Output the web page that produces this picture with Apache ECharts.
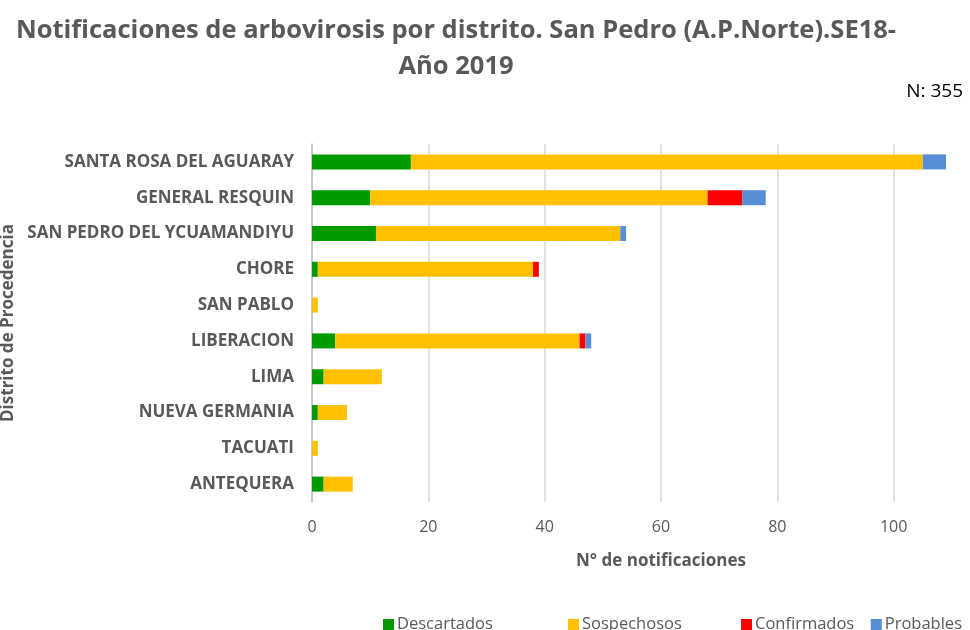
<!DOCTYPE html>
<html>
<head>
<meta charset="utf-8">
<script src="https://cdn.jsdelivr.net/npm/echarts@6/dist/echarts.min.js"></script>
<style>
  html, body { margin: 0; padding: 0; background: #fff; }
  #chart { width: 970px; height: 630px; }
</style>
</head>
<body>
<div id="chart"></div>
<script>
// distritos, de arriba hacia abajo
var districts = ['SANTA ROSA DEL AGUARAY', 'GENERAL RESQUIN', 'SAN PEDRO DEL YCUAMANDIYU', 'CHORE', 'SAN PABLO',
    'LIBERACION', 'LIMA', 'NUEVA GERMANIA', 'TACUATI', 'ANTEQUERA'];
var descartados = [17, 10, 11, 1, 0, 4, 2, 1, 0, 2];
var sospechosos = [88, 58, 42, 37, 1, 42, 10, 5, 1, 5];
var confirmados = [0, 6, 0, 1, 0, 1, 0, 0, 0, 0];
var probables = [4, 4, 1, 0, 0, 1, 0, 0, 0, 0];
var xTicks = [0, 20, 40, 60, 80, 100, 120];

var font = 'Open Sans';
var gray = '#595959';

var chart = echarts.init(document.getElementById('chart'));

function serie(name, data, color) {
    return {
        name: name,
        type: 'bar',
        stack: 'total',
        barWidth: 15,
        data: data,
        itemStyle: { color: color },
        emphasis: { disabled: true }
    };
}

// una leyenda por serie, para ubicarlas como en el original
var legendPos = [{ left: 383 }, { left: 568 }, { left: 741 }, { right: 8 }];
var names = ['Descartados', 'Sospechosos', 'Confirmados', 'Probables'];
var legends = names.map(function (n, i) {
    return Object.assign({
        top: 616,
        padding: 0,
        itemWidth: 11,
        itemHeight: 11,
        itemGap: 4,
        icon: 'rect',
        textStyle: { fontFamily: font, fontSize: 16.5, color: gray, padding: [0, 0, 0, -2] },
        data: [n]
    }, legendPos[i]);
});

chart.setOption({
    animation: false,
    textStyle: { fontFamily: font },
    title: [
        {
            text: 'Notificaciones de arbovirosis por distrito. San Pedro (A.P.Norte).SE18-\nAño 2019',
            left: 451,
            top: 8,
            textAlign: 'center',
            textStyle: { fontFamily: font, fontSize: 25.5, fontWeight: 'bold', color: gray, lineHeight: 36, align: 'center' }
        },
        {
            text: 'N: 355',
            right: 2,
            top: 77,
            textStyle: { fontFamily: font, fontSize: 19, fontWeight: 'normal', color: '#000' }
        }
    ],
    legend: legends,
    grid: { left: 312, width: 698, top: 144, height: 358, outerBoundsMode: 'none', containLabel: false },
    xAxis: {
        type: 'value',
        min: 0,
        max: xTicks[xTicks.length - 1],
        interval: 20,
        name: 'N° de notificaciones',
        nameLocation: 'middle',
        nameGap: 51,
        nameTextStyle: { fontFamily: font, fontSize: 17, fontWeight: 'bold', color: gray },
        axisLine: { show: false },
        axisTick: { show: false },
        axisLabel: { fontFamily: font, fontSize: 16, color: gray, margin: 17 },
        splitLine: { lineStyle: { color: '#d9d9d9', width: 1.5 } }
    },
    yAxis: {
        type: 'category',
        inverse: true,
        data: districts,
        name: 'Distrito de Procedencia',
        nameLocation: 'middle',
        nameGap: 284,
        nameRotate: 90,
        nameTextStyle: { fontFamily: font, fontSize: 17, fontWeight: 'bold', color: gray },
        axisLine: { show: true, lineStyle: { color: '#bfbfbf', width: 1.5 } },
        axisTick: { show: false },
        axisLabel: { fontFamily: font, fontSize: 17, fontWeight: 'bold', color: gray, margin: 18 }
    },
    series: [
        serie('Descartados', descartados, '#009900'),
        serie('Sospechosos', sospechosos, '#ffc000'),
        serie('Confirmados', confirmados, '#ff0000'),
        serie('Probables', probables, '#558ed5')
    ]
});
</script>
</body>
</html>
